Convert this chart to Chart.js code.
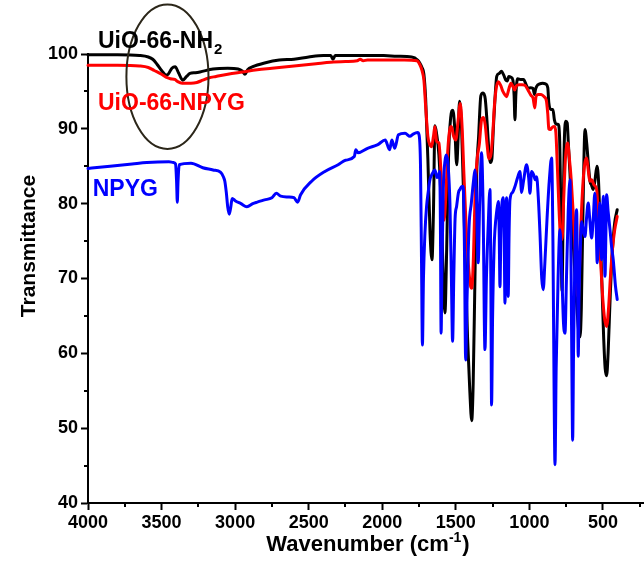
<!DOCTYPE html>
<html><head><meta charset="utf-8">
<script src="https://cdn.jsdelivr.net/npm/chart.js@4.4.1/dist/chart.umd.min.js"></script>
<style>html,body{margin:0;padding:0;background:#fff;overflow:hidden}#wrap{width:644px;height:582px}</style>
</head><body><div id="wrap"><canvas id="c" width="644" height="582"></canvas></div>
<script>
const seriesNames = ['UiO-66-NH2','UiO-66-NPYG','NPYG'];
const xTicks = [4000,3500,3000,2500,2000,1500,1000,500];
const xMinorTicks = [3750,3250,2750,2250,1750,1250,750,250];
const yTicks = [40,50,60,70,80,90,100];
const yMinorTicks = [45,55,65,75,85,95];
const xTitle = 'Wavenumber (cm';
const xTitleSup = '-1';
const yTitle = 'Transmittance';

const nh2Wn = [4000,3800,3650,3590,3560,3530,3500,3470,3455,3430,3408,3385,3356,3330,3307,3270,3239,3150,3050,2980,2950,2933,2915,2880,2800,2700,2600,2500,2400,2350,2335,2320,2250,2150,2050,1990,1900,1800,1760,1745,1730,1717,1705,1690,1675,1662,1652,1642,1632,1615,1600,1585,1574,1562,1550,1535,1520,1507,1494,1484,1475,1463,1450,1435,1420,1405,1392,1382,1370,1358,1345,1330,1315,1300,1288,1275,1265,1255,1245,1234,1222,1205,1190,1175,1160,1150,1140,1125,1112,1104,1098,1092,1080,1060,1040,1020,1008,995,975,965,958,950,930,910,890,875,868,855,840,830,815,805,795,787,778,771,763,752,743,735,724,715,705,695,680,665,656,647,635,622,610,598,588,578,566,555,541,530,518,505,495,485,475,465,450,435,420,403];
const nh2T  = [99.9,99.9,99.8,99.6,99.3,98.6,97.8,97.2,97.3,98.1,98.3,97.5,96.5,97.0,97.4,97.5,97.6,98.0,98.1,98.0,97.7,97.3,97.9,98.3,98.8,99.2,99.3,99.6,99.8,99.8,99.3,99.8,99.8,99.8,99.8,99.8,99.7,99.6,99.2,98.8,98.2,97.3,94,86,76,72.5,79,90.4,89.5,86.5,80,70,65.4,74,86,91.5,92.5,90,85.2,89,93.7,91,83,72,62,55,51,56,70,84,89,94.4,94.8,94,91,87,85.5,86,90,94,97,97.4,97.7,97.2,96.5,96.4,97,96.9,96.5,94.5,91.2,94.5,96.7,96.6,96.6,95.8,95.4,95.5,95.4,94.6,95.3,95.7,96.0,96.1,96.0,95.5,93.5,92.6,92.6,91.2,90.6,90.6,89,80,68.3,78,88,91,90.8,88,84,80,76,72,67,63,62.2,66,80,89.9,88,85,83,82.5,81.9,83,85,83,76,68,62,58,57,60,68,74,77.5,79.2];

const npygCompWn = [4000,3800,3650,3590,3550,3500,3470,3440,3410,3390,3360,3300,3260,3220,3180,3130,3050,2950,2850,2750,2650,2550,2450,2350,2250,2170,2150,2130,2100,2050,1950,1850,1765,1745,1730,1717,1705,1690,1675,1665,1652,1642,1630,1615,1603,1590,1580,1568,1555,1540,1530,1515,1500,1485,1470,1458,1445,1430,1415,1400,1392,1380,1368,1355,1340,1325,1312,1300,1288,1275,1262,1250,1238,1225,1210,1195,1180,1165,1155,1140,1125,1110,1100,1090,1070,1050,1030,1010,990,975,963,955,940,920,900,885,875,868,858,845,830,820,810,798,788,778,768,755,740,728,715,700,685,672,662,650,635,622,611,600,590,577,560,543,530,515,500,488,475,462,450,435,420,403];
const npygCompT  = [98.5,98.5,98.4,98.2,97.8,97.3,96.9,96.7,96.6,96.3,96.1,96.1,96.2,96.5,96.8,97.0,97.3,97.6,97.9,98.1,98.3,98.5,98.7,98.9,99.0,99.1,99.3,99.1,99.2,99.2,99.2,99.2,99.1,98.6,97.8,96.5,93,89,87.8,87.6,89,90.3,88.3,88.1,85,79,77.8,81,87,90,90.3,89,88.5,91,93.4,90.5,84,77,72,69,68.7,73,82,86,88,91.2,91.5,90.5,88,86,86.5,89,93,95.5,96.3,95.8,95,94.5,94.3,95.3,96.1,95.6,95.2,95.7,95.9,95.9,95.8,95.2,94.5,94.1,92.8,94.3,94.6,94.6,94.3,93.8,92,90,89.9,90.2,90.3,89.5,85,79,75.5,75.2,80,86,88.1,86,83,78,72,67.6,70,77,83,85.5,86.1,84.5,83,83.2,82.5,81.9,78,72,67,64.5,63.6,66,70,74,76.5,78.3];

const npygWn = [4000,3850,3700,3600,3450,3420,3405,3398,3393,3388,3380,3300,3220,3150,3100,3080,3070,3060,3050,3040,3030,3020,3000,2960,2920,2880,2850,2800,2750,2720,2690,2640,2600,2575,2555,2480,2390,2300,2250,2190,2180,2165,2100,2030,1980,1950,1935,1915,1890,1845,1812,1790,1760,1750,1740,1733,1727,1720,1710,1699,1688,1676,1660,1642,1628,1619,1610,1605,1600,1594,1585,1575,1565,1552,1540,1530,1522,1514,1505,1495,1482,1472,1460,1450,1442,1433,1424,1410,1395,1380,1370,1360,1348,1338,1325,1315,1302,1292,1280,1268,1262,1257,1250,1240,1234,1222,1211,1205,1200,1193,1178,1171,1166,1160,1155,1150,1144,1138,1132,1115,1098,1080,1064,1053,1040,1019,1005,996,985,970,960,951,940,928,916,906,895,880,865,849,840,832,826,818,805,792,780,768,758,748,736,724,716,710,706,700,690,679,673,668,662,652,645,634,622,612,600,590,577,566,555,547,539,530,521,515,509,503,498,492,486,480,475,465,452,440,430,415,403];
const npygT  = [84.7,85.0,85.3,85.5,85.6,85.5,85.3,83,80.2,83,85.2,85.4,84.8,84.5,84.2,83.6,83.0,81.5,79.5,78.6,79.5,80.7,80.4,80.0,79.6,80.0,80.2,80.5,80.8,81.4,81.0,80.9,80.8,80.2,81.2,83.0,84.3,85.2,85.8,86.3,87.2,86.8,87.4,87.9,88.5,87.2,88.5,87.4,89.2,89.4,89.0,89.3,89.5,89.2,85,72,61.1,70,76,79.6,81.5,83.2,84,84.5,83.5,83.6,84.3,78,62.7,72,82,85.5,86.5,85,80,70,61.6,70,78,79.6,81.5,81.9,82.3,82.3,75,59.1,67,77,80,83,84.5,81,72.1,80,86.8,80,60.5,70,77,81.9,70,53.1,65,74,76.5,79,80.3,76,68.9,77,80.8,75,66.7,76,80.8,76,67.6,76,80.5,81.5,82.3,83.5,84.3,81.5,83,85.2,83.5,81.4,84.3,83.8,83.2,83.6,81,76,70,68.5,72,78,83,86.1,75,55,45.1,58,70,76.5,71,64,62.7,70,79,83.2,70,55,48.4,60,74,79.2,70,59.6,68,75,77.6,76.5,75.6,78,80.1,78,75.4,78,81.4,78,72.1,76,80.1,76,72.5,77,81,76,70.3,76,81.2,79,76.5,74,72.5,69,67.2];

function pts(wn, t){ return wn.map((w,i)=>({x:w, y:t[i]})); }

const FONT = 'Arial, "Liberation Sans", Helvetica, sans-serif';

const decor = {
  id: 'decor',
  afterDraw(chart){
    const ctx = chart.ctx, xs = chart.scales.x, ys = chart.scales.y, ca = chart.chartArea;
    ctx.save();
    ctx.strokeStyle = '#000'; ctx.lineWidth = 2;
    xMinorTicks.forEach(v=>{ const px = Math.round(xs.getPixelForValue(v));
      ctx.beginPath(); ctx.moveTo(px, ca.bottom); ctx.lineTo(px, ca.bottom+4); ctx.stroke(); });
    yMinorTicks.forEach(v=>{ const py = Math.round(ys.getPixelForValue(v));
      ctx.beginPath(); ctx.moveTo(ca.left, py); ctx.lineTo(ca.left-4, py); ctx.stroke(); });
    const cx = xs.getPixelForValue(3460), cy = ys.getPixelForValue(96.97);
    const rx = Math.abs(xs.getPixelForValue(3181) - xs.getPixelForValue(3739))/2;
    const ry = Math.abs(ys.getPixelForValue(87.3) - ys.getPixelForValue(106.6))/2;
    ctx.strokeStyle = '#2b2619'; ctx.lineWidth = 2;
    ctx.beginPath(); ctx.ellipse(cx, cy, rx, ry, 0, 0, Math.PI*2); ctx.stroke();
    ctx.textBaseline = 'alphabetic'; ctx.textAlign = 'left';
    let lx = xs.getPixelForValue(3932), ly = ys.getPixelForValue(100.8);
    ctx.fillStyle = '#000'; ctx.font = 'bold 23px ' + FONT;
    ctx.fillText('UiO-66-NH', lx, ly);
    const w1 = ctx.measureText('UiO-66-NH').width;
    ctx.font = 'bold 15px ' + FONT; ctx.fillText('2', lx + w1 + 1, ly + 6);
    ctx.fillStyle = '#ff0000'; ctx.font = 'bold 23px ' + FONT;
    ctx.fillText(seriesNames[1], xs.getPixelForValue(3932), ys.getPixelForValue(92.5));
    ctx.fillStyle = '#0000ff';
    ctx.fillText(seriesNames[2], xs.getPixelForValue(3968), ys.getPixelForValue(81.0));
    ctx.fillStyle = '#000';
    ctx.font = 'bold 22px ' + FONT;
    const wMain = ctx.measureText(xTitle).width;
    ctx.font = 'bold 14px ' + FONT;
    const wSup = ctx.measureText(xTitleSup).width;
    ctx.font = 'bold 22px ' + FONT;
    const wClose = ctx.measureText(')').width;
    const total = wMain + wSup + wClose + 1;
    let tx = (ca.left + ca.right)/2 - total/2 + 2, ty = ca.bottom + 48;
    ctx.fillText(xTitle, tx, ty);
    ctx.font = 'bold 14px ' + FONT; ctx.fillText(xTitleSup, tx + wMain, ty - 9);
    ctx.font = 'bold 22px ' + FONT; ctx.fillText(')', tx + wMain + wSup + 1, ty);
    ctx.save();
    ctx.translate(35, ca.top + 192); ctx.rotate(-Math.PI/2);
    ctx.textAlign = 'center'; ctx.font = 'bold 21px ' + FONT;
    ctx.fillText(yTitle, 0, 0);
    ctx.restore();
    ctx.restore();
  }
};

const ds = (label, data, color, order) => ({
  label, data, borderColor: color, backgroundColor: color, borderWidth: 3,
  pointRadius: 0, fill: false, tension: 0, cubicInterpolationMode: 'monotone',
  borderJoinStyle: 'round', borderCapStyle: 'round', clip: 6, order
});

new Chart(document.getElementById('c'), {
  type: 'line',
  data: { datasets: [
    ds(seriesNames[2], pts(npygWn, npygT), '#0000ff', 1),
    ds(seriesNames[1], pts(npygCompWn, npygCompT), '#ff0000', 2),
    ds(seriesNames[0], pts(nh2Wn, nh2T), '#000000', 3)
  ]},
  options: {
    responsive: false, devicePixelRatio: 1, animation: false,
    layout: { padding: { top: 54, right: 0, left: 0, bottom: 0 } },
    plugins: { legend: { display: false }, tooltip: { enabled: false } },
    scales: {
      x: {
        type: 'linear', reverse: true, min: 221, max: 4000,
        afterBuildTicks: s => { s.ticks = xTicks.map(v=>({value:v})); },
        afterFit: s => { s.height = 79; },
        ticks: { color:'#000', font:{ family: FONT, size: 18, weight: 'bold' }, padding: 2, maxRotation: 0, autoSkip: false, callback: v => String(v) },
        grid: { drawOnChartArea: false, drawTicks: true, tickLength: 7, tickWidth: 2, tickColor: '#000' },
        border: { display: true, color: '#000', width: 2 }
      },
      y: {
        type: 'linear', min: 40, max: 100,
        afterBuildTicks: s => { s.ticks = yTicks.map(v=>({value:v})); },
        afterFit: s => { s.width = 88; },
        ticks: { color:'#000', font:{ family: FONT, size: 18, weight: 'bold' }, padding: 3, callback: v => String(v) },
        grid: { drawOnChartArea: false, drawTicks: true, tickLength: 7, tickWidth: 2, tickColor: '#000' },
        border: { display: true, color: '#000', width: 2 }
      }
    }
  },
  plugins: [decor]
});
</script>
</body></html>
